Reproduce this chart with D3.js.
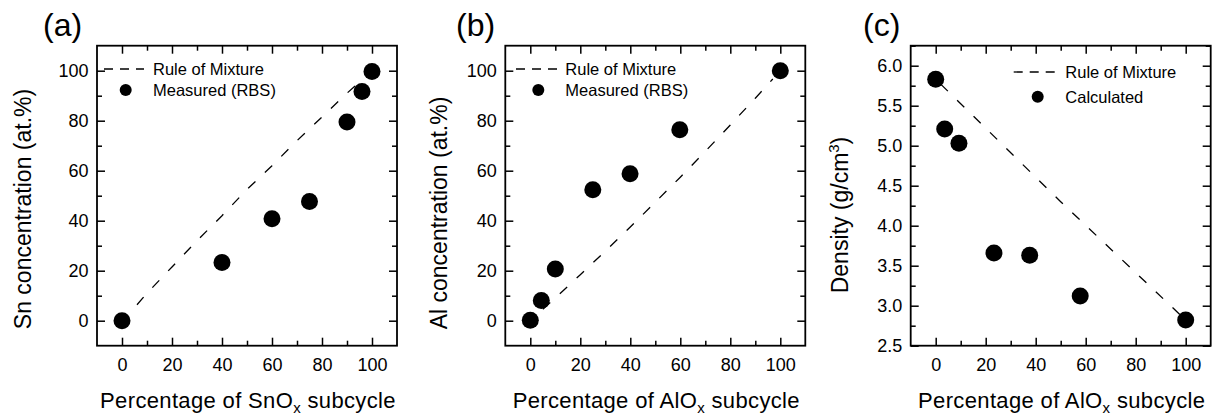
<!DOCTYPE html>
<html><head><meta charset="utf-8">
<script src="https://cdn.jsdelivr.net/npm/d3@7"></script>
<style>
html,body{margin:0;padding:0;background:#fff;}
svg{display:block;font-family:"Liberation Sans",Arial,sans-serif;}
</style></head>
<body>
<svg id="chart" width="1218" height="419"></svg>
<script>
// ---------- data ----------
const aPctSnOx   = [0, 40, 60, 75, 90, 96, 100];
const aSnConc    = [0, 23.3, 40.8, 47.7, 79.5, 91.7, 99.7];
const aRuleX     = [6, 10, 20, 30, 40, 50, 60, 70, 80, 90, 95];
const aRuleY     = [6.4, 11, 21.5, 32, 42, 52.5, 62, 72, 81.5, 91, 95.5];

const bPctAlOx   = [0, 4.4, 10, 25, 39.9, 59.8, 100];
const bAlConc    = [0.2, 8.1, 20.7, 52.4, 58.8, 76.4, 100];
const bRuleX     = [5, 10, 20, 30, 40, 50, 60, 70, 80, 90, 97];
const bRuleY     = [4.6, 9.1, 18.4, 27.8, 37.5, 47.4, 57.4, 67.7, 78.3, 89, 96.7];

const cPctAlOx   = [0, 3.6, 9.3, 23.3, 37.6, 57.8, 100];
const cDensity   = [5.83, 5.21, 5.03, 3.66, 3.63, 3.12, 2.82];
const cRuleX     = [2, 50, 98];
const cRuleY     = [5.77, 4.30, 2.88];

const xTicks     = [0, 20, 40, 60, 80, 100];
const xMinor     = [10, 30, 50, 70, 90];
const yTicksConc = [0, 20, 40, 60, 80, 100];
const yMinorConc = [10, 30, 50, 70, 90];
const yTicksDens = [2.5, 3.0, 3.5, 4.0, 4.5, 5.0, 5.5, 6.0];
const yMinorDens = [2.75, 3.25, 3.75, 4.25, 4.75, 5.25, 5.75, 6.25];

const panels = [
  {label:"(a)", labelX:43, left:97, right:397, xDom:[-10,110], yDom:[-10,110],
   px:aPctSnOx, py:aSnConc, rx:aRuleX, ry:aRuleY,
   yTicks:yTicksConc, yMinor:yMinorConc, yFmt:d3.format("d"),
   xTitle:["Percentage of SnO","x"," subcycle"], yTitle:"Sn concentration (at.%)", yTitleX:31, yTitleY:209,
   legend:{lineX1:104, lineX2:144, textX:153, y1:69, y2:90, dotX:125.7}, legendNames:["Rule of Mixture","Measured (RBS)"]},
  {label:"(b)", labelX:456, left:505.3, right:805.3, xDom:[-10,110], yDom:[-10,110],
   px:bPctAlOx, py:bAlConc, rx:bRuleX, ry:bRuleY,
   yTicks:yTicksConc, yMinor:yMinorConc, yFmt:d3.format("d"),
   xTitle:["Percentage of AlO","x"," subcycle"], yTitle:"Al concentration (at.%)", yTitleX:446.5, yTitleY:213,
   legend:{lineX1:516, lineX2:559, textX:565.3, y1:69, y2:90, dotX:538.3}, legendNames:["Rule of Mixture","Measured (RBS)"]},
  {label:"(c)", labelX:863, left:910.7, right:1210.7, xDom:[-10,110], yDom:[2.5,6.25],
   px:cPctAlOx, py:cDensity, rx:cRuleX, ry:cRuleY,
   yTicks:yTicksDens, yMinor:yMinorDens, yFmt:d3.format(".1f"),
   xTitle:["Percentage of AlO","x"," subcycle"], yTitle:null, yTitleX:847.5, yTitleY:215,
   legend:{lineX1:1013.7, lineX2:1057, textX:1065.3, y1:72, y2:96.7, dotX:1037.7}, legendNames:["Rule of Mixture","Calculated"]}
];

const plotTop = 45.7, plotBottom = 345.7;
const svg = d3.select("#chart");

panels.forEach(p => {
  const x = d3.scaleLinear().domain(p.xDom).range([p.left, p.right]);
  const y = d3.scaleLinear().domain(p.yDom).range([plotBottom, plotTop]);
  const g = svg.append("g");

  const major = 8, minor = 5;
  const mk = (axisFn, scale, ticks, len, fmt, tr) => {
    const a = axisFn(scale).tickValues(ticks).tickSizeInner(-len).tickSizeOuter(0)
      .tickPadding(len + 8).tickFormat(fmt);
    const ag = g.append("g").attr("transform", tr).call(a);
    ag.select(".domain").remove();
    ag.selectAll("line").attr("stroke", "#000").attr("stroke-width", 1.5);
    ag.selectAll("text").attr("font-size", 18).attr("fill", "#000")
      .attr("font-family", "Liberation Sans, Arial, sans-serif");
    return ag;
  };
  const none = () => "";
  mk(d3.axisBottom, x, xTicks, major, d3.format("d"), `translate(0,${plotBottom})`)
    .selectAll("text").attr("dy", "0.71em").attr("y", 13);
  mk(d3.axisBottom, x, xMinor, minor, none, `translate(0,${plotBottom})`);
  mk(d3.axisTop, x, xTicks, major, none, `translate(0,${plotTop})`);
  mk(d3.axisTop, x, xMinor, minor, none, `translate(0,${plotTop})`);
  mk(d3.axisLeft, y, p.yTicks, major, p.yFmt, `translate(${p.left},0)`)
    .selectAll("text").attr("x", -8.5);
  mk(d3.axisLeft, y, p.yMinor, minor, none, `translate(${p.left},0)`);
  mk(d3.axisRight, y, p.yTicks, major, none, `translate(${p.right},0)`);
  mk(d3.axisRight, y, p.yMinor, minor, none, `translate(${p.right},0)`);

  g.append("rect").attr("x", p.left).attr("y", plotTop)
    .attr("width", p.right - p.left).attr("height", plotBottom - plotTop)
    .attr("fill", "none").attr("stroke", "#000").attr("stroke-width", 1.8);

  const line = d3.line().x(d => x(d[0])).y(d => y(d[1]));
  g.append("path").datum(d3.zip(p.rx, p.ry)).attr("d", line)
    .attr("fill", "none").attr("stroke", "#000").attr("stroke-width", 1.3)
    .attr("stroke-dasharray", "10,13");

  g.selectAll("circle.pt").data(d3.zip(p.px, p.py)).join("circle")
    .attr("class", "pt").attr("cx", d => x(d[0])).attr("cy", d => y(d[1]))
    .attr("r", 8.5).attr("fill", "#000");

  const L = p.legend;
  g.append("line").attr("x1", L.lineX1).attr("x2", L.lineX2).attr("y1", L.y1).attr("y2", L.y1)
    .attr("stroke", "#000").attr("stroke-width", 1.3).attr("stroke-dasharray", "9,7");
  g.append("circle").attr("cx", L.dotX).attr("cy", L.y2).attr("r", 6).attr("fill", "#000");
  g.append("text").attr("x", L.textX).attr("y", L.y1).attr("dy", "0.36em")
    .attr("font-size", 16.5).text(p.legendNames[0]);
  g.append("text").attr("x", L.textX).attr("y", L.y2).attr("dy", "0.36em")
    .attr("font-size", 16.5).text(p.legendNames[1]);

  g.append("text").attr("x", p.labelX).attr("y", 36).attr("font-size", 32).text(p.label);

  const xt = g.append("text").attr("x", (p.left + p.right) / 2 + 1).attr("y", 408)
    .attr("text-anchor", "middle").attr("font-size", 22).attr("letter-spacing", 0.35);
  xt.append("tspan").text(p.xTitle[0]);
  xt.append("tspan").attr("font-size", 15).attr("dy", 5).text(p.xTitle[1]);
  xt.append("tspan").attr("dy", -5).text(p.xTitle[2]);

  const yt = g.append("text")
    .attr("transform", `translate(${p.yTitleX},${p.yTitleY}) rotate(-90)`)
    .attr("text-anchor", "middle").attr("font-size", 23);
  if (p.yTitle) {
    yt.text(p.yTitle);
  } else {
    yt.append("tspan").text("Density (g/cm");
    yt.append("tspan").attr("font-size", 15).attr("dy", -9).text("3");
    yt.append("tspan").attr("dy", 9).text(")");
  }
});
</script>
</body></html>
